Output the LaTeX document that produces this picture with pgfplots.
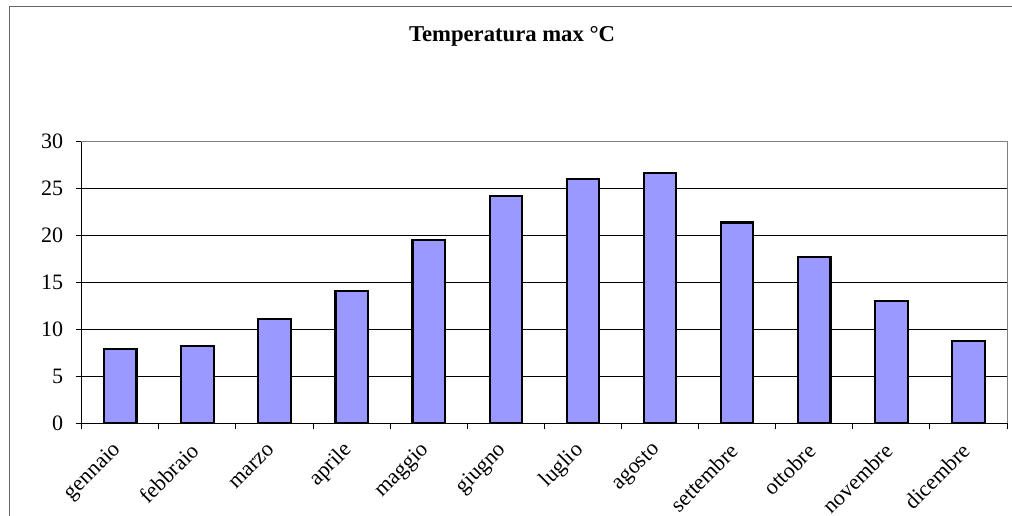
\documentclass[border=0pt]{standalone}
\usepackage{pgfplots}
\pgfplotsset{compat=1.18}
\usepackage{fontspec}
\setmainfont{Liberation Serif}
\definecolor{barfill}{HTML}{9999FF}
\begin{document}
\begin{tikzpicture}
\useasboundingbox (0,0) rectangle (759pt,387pt);
% outer chart frame
\draw[black!60, line width=0.75pt] (6.75pt,-5pt) -- (6.75pt,381.75pt) -- (770pt,381.75pt);
\node[anchor=base, font=\fontsize{17}{19}\selectfont\bfseries] at (384pt,355.5pt) {Temperatura max °C};
\begin{axis}[
    at={(61.3pt,69.5pt)}, anchor=south west,
    scale only axis, width=694pt, height=211.2pt,
    xmin=-0.5, xmax=11.5, ymin=0, ymax=30,
    ytick={0,5,...,30},
    xtick={0,...,11},
    xticklabels={gennaio,febbraio,marzo,aprile,maggio,giugno,luglio,agosto,settembre,ottobre,novembre,dicembre},
    xtick style={draw=none},
    extra x ticks={-0.5,0.5,...,11.5},
    extra x tick labels={},
    extra x tick style={xtick style={draw=black}},
    tick align=outside, tick pos=left,
    major tick length=4.5pt,
    tick style={black, line width=0.75pt},
    ymajorgrids, grid style={black, line width=0.75pt},
    axis line style={draw=black!50, line width=0.75pt},
    tick label style={font=\fontsize{16.5}{19}\selectfont},
    /pgf/number format/assume math mode=true,
    yticklabel style={xshift=-6pt},
    xticklabel style={xshift=0.5pt, yshift=-11pt, rotate=45, anchor=east},
    clip=false,
]
\addplot[ybar, bar width=0.42, fill=barfill, draw=black, line width=1.6pt] coordinates {
    (0,7.9) (1,8.2) (2,11.1) (3,14.1) (4,19.5) (5,24.2)
    (6,26.0) (7,26.7) (8,21.4) (9,17.7) (10,13.0) (11,8.8)
};
\draw[black, line width=0.75pt] (rel axis cs:0,1) -- (rel axis cs:0,0) -- (rel axis cs:1,0);
\end{axis}
\end{tikzpicture}
\end{document}
